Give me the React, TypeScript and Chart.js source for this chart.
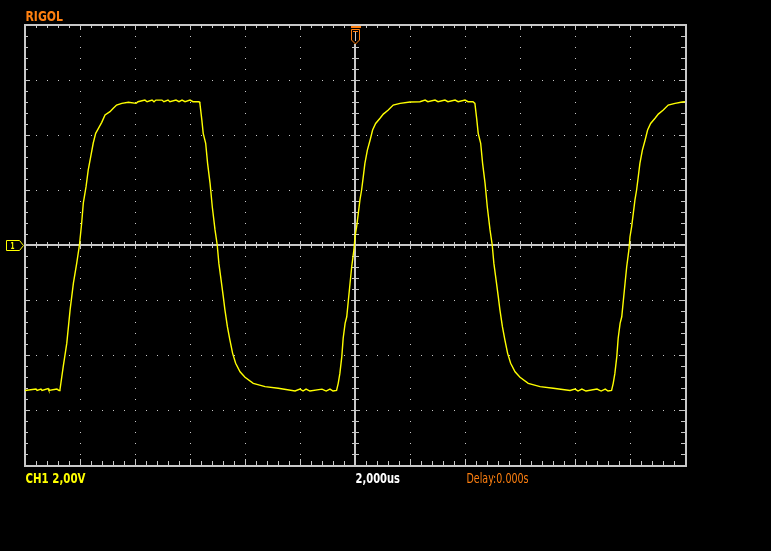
import { useEffect, useRef } from "react";
import { Chart, registerables } from "chart.js";

Chart.register(...registerables);

const timeUs: number[] = [
  -12.0, -11.6, -11.56, -11.42, -11.38, -11.16, -11.13, -10.84, -10.76,
  -10.73, -10.61, -10.48, -10.36, -10.24, -10.12, -10.02, -9.94, -9.88, -9.78,
  -9.7, -9.61, -9.52, -9.43, -9.33, -9.21, -9.09, -8.91, -8.79, -8.67, -8.48,
  -8.24, -7.96, -7.89, -7.64, -7.56, -7.38, -7.31, -7.24, -7.02, -6.95, -6.8,
  -6.73, -6.51, -6.4, -6.29, -6.18, -6.0, -5.89, -5.67,
  -5.64, -5.57, -5.52, -5.43, -5.36, -5.27, -5.19, -5.09, -5.01, -4.95, -4.87,
  -4.79, -4.73, -4.64, -4.55, -4.45, -4.34, -4.18, -4.0, -3.7, -3.27, -2.79,
  -2.18, -2.0, -1.89, -1.78, -1.64, -1.2, -1.05, -0.91, -0.8, -0.67,
  -0.61, -0.55, -0.48, -0.43, -0.36, -0.3, -0.24, -0.18, -0.12, -0.04, 0.0,
  0.06, 0.12, 0.18, 0.24, 0.3, 0.36, 0.45, 0.55, 0.64, 0.75, 0.91, 1.03, 1.21,
  1.39, 1.64, 2.0, 2.36, 2.55, 2.65, 2.91, 3.02, 3.27, 3.38, 3.64, 3.75, 4.0,
  4.11, 4.29,
  4.36, 4.43, 4.48, 4.57, 4.64, 4.73, 4.81, 4.91, 4.99, 5.05, 5.13, 5.21, 5.27,
  5.36, 5.45, 5.55, 5.66, 5.82, 6.0, 6.3, 6.73, 7.21, 7.82, 8.0, 8.11, 8.25,
  8.4, 8.8, 8.95, 9.1, 9.2, 9.33,
  9.39, 9.45, 9.52, 9.57, 9.64, 9.7, 9.76, 9.82, 9.88, 9.96, 10.0, 10.06,
  10.12, 10.18, 10.24, 10.3, 10.36, 10.45, 10.55, 10.64, 10.75, 10.91, 11.03,
  11.21, 11.39, 11.64, 11.9, 12.0,
];

const voltsV: number[] = [
  -5.29, -5.24, -5.29, -5.24, -5.29, -5.22, -5.29, -5.24, -5.29,
  -5.27, -4.42, -3.57, -2.36, -1.39, -0.67, 0.0, 0.79, 1.52, 2.12,
  2.73, 3.21, 3.7, 4.06, 4.24, 4.46, 4.73, 4.85, 4.97, 5.09, 5.15,
  5.19, 5.15, 5.21, 5.27, 5.21, 5.27, 5.21, 5.27, 5.27, 5.21, 5.27,
  5.21, 5.27, 5.21, 5.27, 5.21, 5.27, 5.21, 5.21,
  5.15, 4.55, 4.06, 3.7, 2.97, 2.24, 1.39, 0.55, 0.0, -0.67, -1.27,
  -1.88, -2.36, -2.97, -3.45, -3.94, -4.3, -4.61, -4.81, -5.03, -5.15, -5.21,
  -5.31, -5.24, -5.31, -5.24, -5.31, -5.24, -5.31, -5.24, -5.31, -5.29,
  -5.03, -4.67, -4.06, -3.39, -2.85, -2.61, -2.0, -1.39, -0.79, -0.18, 0.3,
  0.67, 1.15, 1.64, 2.0, 2.48, 2.97, 3.45, 3.82, 4.18, 4.42, 4.61, 4.76, 4.91,
  5.09, 5.15, 5.2, 5.21, 5.27, 5.21, 5.27, 5.21, 5.27, 5.21, 5.27, 5.21, 5.27,
  5.21, 5.21,
  5.15, 4.55, 4.06, 3.7, 2.97, 2.24, 1.39, 0.55, 0.0, -0.67, -1.27, -1.88, -2.36,
  -2.97, -3.45, -3.94, -4.3, -4.61, -4.81, -5.03, -5.15, -5.21, -5.29, -5.24, -5.31, -5.24,
  -5.31, -5.24, -5.31, -5.24, -5.31, -5.29,
  -5.03, -4.67, -4.06, -3.39, -2.85, -2.61, -2.0, -1.39, -0.79, -0.18, 0.3, 0.67,
  1.15, 1.64, 2.0, 2.48, 2.97, 3.45, 3.82, 4.18, 4.42, 4.61, 4.76,
  4.91, 5.09, 5.15, 5.2, 5.21,
];

const timeRangeUs = [-12, 12];
const voltRangeV = [-8, 8];
const timeDivUs = 2;
const voltDivV = 2;
const subdivisions = 5;

const brandLabel = "RIGOL";
const channelLabel = "CH1 2,00V";
const timebaseLabel = "2,000us";
const delayLabel = "Delay:0.000s";
const channelMarker = "1";

const GRID = "#c8c8c8";
const YELLOW = "#ffff00";
const ORANGE = "#ff8010";

function fitText(
  ctx: CanvasRenderingContext2D,
  text: string,
  left: number,
  baseline: number,
  width: number,
  capH: number,
  weight: string,
  color: string
) {
  const size = capH / 0.73;
  ctx.font = `${weight} ${size}px "DejaVu Sans"`;
  const w = ctx.measureText(text).width;
  ctx.save();
  ctx.translate(left, baseline);
  ctx.scale(width / w, 1);
  ctx.fillStyle = color;
  ctx.textBaseline = "alphabetic";
  ctx.textAlign = "left";
  ctx.fillText(text, 0, 0);
  ctx.restore();
}

const scopePlugin = {
  id: "scope",
  beforeDraw(chart: any) {
    const ctx: CanvasRenderingContext2D = chart.ctx;
    ctx.save();
    ctx.fillStyle = "#000";
    ctx.fillRect(0, 0, chart.width, chart.height);
    ctx.restore();
  },
  beforeDatasetsDraw(chart: any) {
    const ctx: CanvasRenderingContext2D = chart.ctx;
    const xs = chart.scales.x;
    const ys = chart.scales.y;
    const X = (v: number) => Math.round(xs.getPixelForValue(v));
    const Y = (v: number) => Math.round(ys.getPixelForValue(v));
    const left = X(timeRangeUs[0]);
    const right = X(timeRangeUs[1]);
    const top = Y(voltRangeV[1]);
    const bottom = Y(voltRangeV[0]);
    const xMinor = timeDivUs / subdivisions;
    const yMinor = voltDivV / subdivisions;
    const nx = Math.round((timeRangeUs[1] - timeRangeUs[0]) / xMinor);
    const ny = Math.round((voltRangeV[1] - voltRangeV[0]) / yMinor);
    ctx.save();
    ctx.fillStyle = GRID;
    // dotted grid
    for (let d = 1; d < (timeRangeUs[1] - timeRangeUs[0]) / timeDivUs; d++) {
      const t = timeRangeUs[0] + d * timeDivUs;
      if (Math.abs(t) < 1e-9) continue;
      const px = X(t);
      for (let j = 1; j < ny; j++) {
        const py = Y(voltRangeV[0] + j * yMinor);
        ctx.fillRect(px, py, 1, 1);
      }
    }
    for (let d = 1; d < (voltRangeV[1] - voltRangeV[0]) / voltDivV; d++) {
      const v = voltRangeV[0] + d * voltDivV;
      if (Math.abs(v) < 1e-9) continue;
      const py = Y(v);
      for (let i = 1; i < nx; i++) {
        const px = X(timeRangeUs[0] + i * xMinor);
        ctx.fillRect(px, py, 1, 1);
      }
    }
    // center lines
    const cx = X(0);
    const cy = Y(0);
    ctx.fillRect(left, cy - 1, right - left, 2);
    ctx.fillRect(cx - 1, top, 2, bottom - top);
    for (let i = 1; i < nx; i++) {
      const px = X(timeRangeUs[0] + i * xMinor);
      const major = i % subdivisions === 0;
      ctx.fillRect(px, cy - (major ? 4 : 3), 1, major ? 8 : 6);
      // frame ticks top / bottom
      ctx.fillRect(px, top + 1, 1, major ? 4 : 2);
      ctx.fillRect(px, bottom - (major ? 6 : 4), 1, major ? 6 : 4);
    }
    for (let j = 1; j < ny; j++) {
      const py = Y(voltRangeV[0] + j * yMinor);
      const major = j % subdivisions === 0;
      ctx.fillRect(cx - (major ? 4 : 3), py, major ? 9 : 7, 1);
      ctx.fillRect(left + 1, py, major ? 4 : 2, 1);
      ctx.fillRect(right - (major ? 6 : 4), py, major ? 6 : 4, 1);
    }
    // frame
    ctx.fillRect(left - 1, top - 1, right - left + 3, 2);
    ctx.fillRect(left - 1, bottom, right - left + 3, 2);
    ctx.fillRect(left - 1, top - 1, 2, bottom - top + 3);
    ctx.fillRect(right, top - 1, 2, bottom - top + 3);
    ctx.restore();
  },
  afterDraw(chart: any) {
    const ctx: CanvasRenderingContext2D = chart.ctx;
    const xs = chart.scales.x;
    const ys = chart.scales.y;
    const cx = Math.round(xs.getPixelForValue(0));
    const cy = Math.round(ys.getPixelForValue(0));
    const top = Math.round(ys.getPixelForValue(voltRangeV[1]));
    const left = Math.round(xs.getPixelForValue(timeRangeUs[0]));
    const bottom = Math.round(ys.getPixelForValue(voltRangeV[0]));
    ctx.save();
    // trigger marker
    ctx.fillStyle = "#000";
    ctx.fillRect(cx - 4, top + 2, 9, 17);
    ctx.fillStyle = ORANGE;
    ctx.fillRect(cx - 4, top + 1, 10, 2);
    ctx.strokeStyle = ORANGE;
    ctx.lineWidth = 1;
    ctx.beginPath();
    ctx.moveTo(cx - 3.5, top + 4.5);
    ctx.lineTo(cx + 4.5, top + 4.5);
    ctx.lineTo(cx + 4.5, top + 15);
    ctx.lineTo(cx + 0.5, top + 19);
    ctx.lineTo(cx - 3.5, top + 15);
    ctx.closePath();
    ctx.stroke();
    ctx.fillRect(cx - 2, top + 6, 5, 1);
    ctx.fillStyle = GRID;
    ctx.fillRect(cx, top + 7, 1, 9);
    // channel marker
    ctx.strokeStyle = YELLOW;
    ctx.beginPath();
    ctx.moveTo(6.5, cy - 4.5);
    ctx.lineTo(left - 5.5, cy - 4.5);
    ctx.lineTo(left - 1.5, cy + 0.5);
    ctx.lineTo(left - 5.5, cy + 5.5);
    ctx.lineTo(6.5, cy + 5.5);
    ctx.closePath();
    ctx.stroke();
    fitText(ctx, channelMarker, 10.5, cy + 4, 4, 7, "bold", YELLOW);
    // texts
    fitText(ctx, brandLabel, 25.5, top - 4, 37.5, 10, "bold", ORANGE);
    fitText(ctx, channelLabel, 25.5, bottom + 18, 60, 10, "bold", YELLOW);
    fitText(ctx, timebaseLabel, 355.5, bottom + 18, 44.5, 10, "bold", "#ffffff");
    fitText(ctx, delayLabel, 466.5, bottom + 18, 62, 10, "normal", ORANGE);
    ctx.restore();
  },
};

export default function App() {
  const ref = useRef<HTMLCanvasElement | null>(null);
  useEffect(() => {
    document.body.style.margin = "0";
    document.body.style.background = "#000";
    const canvas = ref.current;
    if (!canvas) return;
    const points = timeUs.map((t, i) => ({ x: t, y: voltsV[i] }));
    const chart = new Chart(canvas, {
      type: "line",
      data: {
        datasets: [
          {
            label: "CH1",
            data: points,
            borderColor: YELLOW,
            borderWidth: 1.4,
            pointRadius: 0,
            tension: 0,
            fill: false,
          },
        ],
      },
      options: {
        responsive: false,
        animation: false,
        devicePixelRatio: 1,
        layout: { padding: { left: 25, top: 25, right: 86, bottom: 86 } },
        plugins: { legend: { display: false }, tooltip: { enabled: false } },
        scales: {
          x: { type: "linear", min: timeRangeUs[0], max: timeRangeUs[1], display: false },
          y: { type: "linear", min: voltRangeV[0], max: voltRangeV[1], display: false },
        },
      },
      plugins: [scopePlugin],
    });
    return () => chart.destroy();
  }, []);
  return (
    <div style={{ position: "fixed", left: 0, top: 0, width: 771, height: 551, background: "#000" }}>
      <canvas ref={ref} width={771} height={551} style={{ display: "block" }} />
    </div>
  );
}
